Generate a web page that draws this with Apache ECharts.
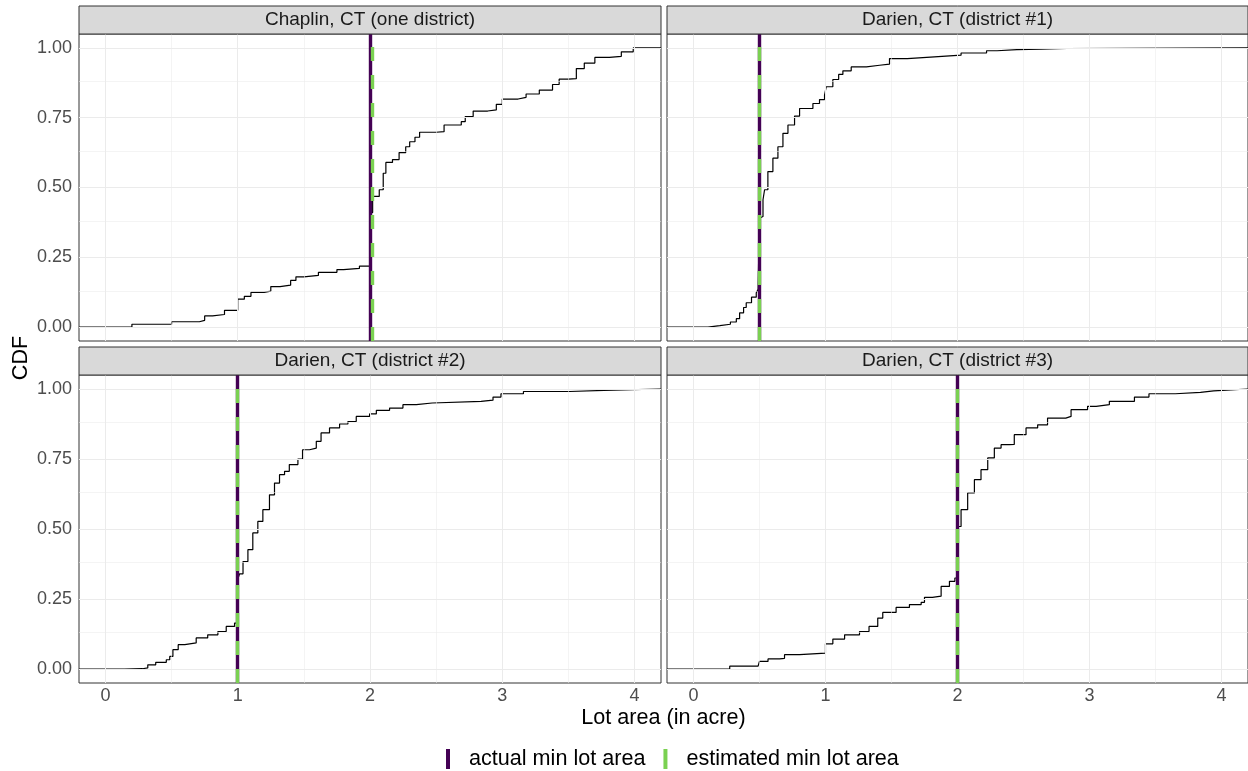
<!DOCTYPE html>
<html>
<head>
<meta charset="utf-8">
<script src="https://cdn.jsdelivr.net/npm/echarts@6/dist/echarts.min.js"></script>
<style>
  html, body { margin: 0; padding: 0; background: #ffffff; }
  #chart { width: 1248px; height: 771px; }
</style>
</head>
<body>
<div id="chart"></div>
<script>
const FONT = '"Liberation Sans", Arial, Helvetica, sans-serif';

// Facet titles and the minimum lot sizes per zoning district
const panelTitles = [
  'Chaplin, CT (one district)',
  'Darien, CT (district #1)',
  'Darien, CT (district #2)',
  'Darien, CT (district #3)'
];
const actualMinLot = [2, 0.5, 1, 2];
const estimatedMinLot = [2.02, 0.5, 1, 2];

// Axis ticks and limits
const xTickValues = [0, 1, 2, 3, 4];
const xMinorValues = [0.5, 1.5, 2.5, 3.5];
const yTickValues = [0, 0.25, 0.5, 0.75, 1];
const yMinorValues = [0.125, 0.375, 0.625, 0.875];
const xLimits = [-0.2, 4.2];
const yLimits = [-0.05, 1.05];

// Empirical CDF of lot area (acres) — Chaplin
const chaplinArea = [0.20, 0.50, 0.71, 0.75, 0.81, 0.90, 1.00, 1.05, 1.10, 1.20, 1.25, 1.32, 1.40, 1.44, 1.50, 1.61, 1.75, 1.80, 1.92,
  2.00, 2.02, 2.07, 2.10, 2.12, 2.17, 2.22, 2.27, 2.30, 2.34, 2.375, 2.50, 2.56, 2.69, 2.72, 2.78, 2.89, 2.955, 3.00, 3.12, 3.18,
  3.28, 3.38, 3.43, 3.50, 3.56, 3.62, 3.70, 3.81, 3.90, 3.99];
const chaplinCdf = [0.010, 0.019, 0.024, 0.040, 0.045, 0.060, 0.100, 0.110, 0.124, 0.129, 0.145, 0.150, 0.167, 0.180, 0.185, 0.196, 0.206, 0.210, 0.218,
  0.410, 0.468, 0.492, 0.551, 0.590, 0.600, 0.625, 0.646, 0.664, 0.680, 0.698, 0.700, 0.724, 0.736, 0.754, 0.774, 0.778, 0.798, 0.817, 0.823, 0.835,
  0.849, 0.869, 0.888, 0.890, 0.926, 0.946, 0.966, 0.970, 0.986, 1.000];

// Darien district #1
const darien1Area = [0.11, 0.20, 0.28, 0.325, 0.35, 0.38, 0.40, 0.44, 0.476, 0.49, 0.50, 0.514, 0.527, 0.539, 0.564, 0.602, 0.64, 0.678, 0.716, 0.766,
  0.804, 0.905, 0.955, 0.993, 1.006, 1.056, 1.10, 1.132, 1.195, 1.31, 1.41, 1.485, 1.62, 1.825, 2.027, 2.22, 2.30, 2.45, 2.63, 2.83];
const darien1Cdf = [0.005, 0.010, 0.018, 0.030, 0.051, 0.070, 0.087, 0.107, 0.123, 0.135, 0.390, 0.396, 0.456, 0.492, 0.557, 0.605, 0.646, 0.694, 0.724, 0.756,
  0.783, 0.801, 0.815, 0.831, 0.861, 0.887, 0.905, 0.918, 0.932, 0.938, 0.942, 0.962, 0.968, 0.974, 0.982, 0.990, 0.994, 0.996, 0.998, 1.000];

// Darien district #2
const darien2Area = [0.144, 0.28, 0.32, 0.38, 0.46, 0.486, 0.51, 0.55, 0.60, 0.686, 0.773, 0.85, 0.913, 0.976, 1.00, 1.014, 1.04, 1.077, 1.114, 1.152,
  1.19, 1.24, 1.278, 1.316, 1.354, 1.39, 1.455, 1.49, 1.543, 1.594, 1.63, 1.694, 1.77, 1.833, 1.896, 1.997, 2.048, 2.148, 2.249, 2.35,
  2.47, 2.84, 2.93, 2.99, 3.16, 3.51, 3.77];
const darien2Cdf = [0.001, 0.004, 0.015, 0.024, 0.033, 0.045, 0.069, 0.087, 0.093, 0.111, 0.122, 0.134, 0.152, 0.164, 0.320, 0.340, 0.384, 0.426, 0.486, 0.527,
  0.569, 0.622, 0.664, 0.694, 0.706, 0.730, 0.750, 0.783, 0.789, 0.813, 0.843, 0.861, 0.875, 0.884, 0.902, 0.911, 0.924, 0.932, 0.944, 0.950,
  0.956, 0.960, 0.971, 0.983, 0.991, 0.995, 1.000];

// Darien district #3
const darien3Area = [0.275, 0.49, 0.50, 0.565, 0.653, 0.69, 0.804, 1.00, 1.056, 1.145, 1.258, 1.33, 1.396, 1.434, 1.535, 1.636, 1.725, 1.75, 1.81, 1.876,
  1.939, 1.98, 2.00, 2.027, 2.077, 2.128, 2.178, 2.229, 2.279, 2.33, 2.393, 2.43, 2.519, 2.607, 2.682, 2.82, 2.86, 2.985, 3.05, 3.15,
  3.34, 3.45, 3.65, 3.84, 3.94];
const darien3Cdf = [0.010, 0.012, 0.027, 0.036, 0.038, 0.051, 0.057, 0.090, 0.107, 0.122, 0.134, 0.152, 0.182, 0.202, 0.220, 0.230, 0.238, 0.256, 0.260, 0.295,
  0.313, 0.325, 0.509, 0.569, 0.629, 0.676, 0.712, 0.754, 0.789, 0.801, 0.802, 0.837, 0.861, 0.872, 0.896, 0.902, 0.926, 0.938, 0.944, 0.956,
  0.971, 0.983, 0.988, 0.993, 1.000];

const panelAreas = [chaplinArea, darien1Area, darien2Area, darien3Area];
const panelCdfs = [chaplinCdf, darien1Cdf, darien2Cdf, darien3Cdf];

const ACTUAL_NAME = 'actual min lot area';
const ESTIMATED_NAME = 'estimated min lot area';
const ACTUAL_COLOR = '#440154';
const ESTIMATED_COLOR = '#7AD151';

// Facet panel placement
const panels = [
  { left: 79,  top: 34,  width: 582, height: 307, showX: false, showY: true },
  { left: 667, top: 34,  width: 581, height: 307, showX: false, showY: false },
  { left: 79,  top: 375, width: 582, height: 308, showX: true,  showY: true },
  { left: 667, top: 375, width: 581, height: 308, showX: true,  showY: false }
];
const STRIP_H = 28;

const grids = [], xAxes = [], yAxes = [], series = [], graphics = [];

panels.forEach((p, i) => {
  grids.push({
    left: p.left, top: p.top, width: p.width, height: p.height,
    show: true, backgroundColor: '#ffffff', borderColor: '#333333', borderWidth: 1,
    containLabel: false, outerBoundsMode: 'none'
  });
  xAxes.push({
    type: 'value', gridIndex: i, min: xLimits[0], max: xLimits[1],
    axisLine: { show: false },
    axisTick: { show: p.showX, length: 4, customValues: xTickValues, lineStyle: { color: '#333333', width: 1 } },
    axisLabel: { show: p.showX, customValues: xTickValues, margin: 4, fontSize: 18, color: '#4D4D4D', fontFamily: FONT },
    splitLine: { show: false }, minorSplitLine: { show: false }
  });
  yAxes.push({
    type: 'value', gridIndex: i, min: yLimits[0], max: yLimits[1],
    axisLine: { show: false },
    axisTick: { show: p.showY, length: 5, customValues: yTickValues, lineStyle: { color: '#333333', width: 1 } },
    axisLabel: { show: p.showY, customValues: yTickValues, margin: 7, fontSize: 18, color: '#4D4D4D', fontFamily: FONT,
      formatter: v => v.toFixed(2) },
    splitLine: { show: false }, minorSplitLine: { show: false }
  });

  // panel grid lines (major and minor)
  const gridLineData = []
    .concat(xTickValues.map(v => ({ xAxis: v, lineStyle: { width: 1, color: '#EBEBEB' } })))
    .concat(xMinorValues.map(v => ({ xAxis: v, lineStyle: { width: 0.55, color: '#EBEBEB' } })))
    .concat(yTickValues.map(v => ({ yAxis: v, lineStyle: { width: 1, color: '#EBEBEB' } })))
    .concat(yMinorValues.map(v => ({ yAxis: v, lineStyle: { width: 0.55, color: '#EBEBEB' } })));
  series.push({
    type: 'line', xAxisIndex: i, yAxisIndex: i, data: [], z: 1, silent: true,
    markLine: { silent: true, symbol: ['none', 'none'], label: { show: false }, animation: false,
      lineStyle: { type: 'solid' }, emphasis: { disabled: true }, data: gridLineData }
  });

  // empirical CDF, padded out to the panel edges
  const pts = [[xLimits[0], 0]];
  panelAreas[i].forEach((x, k) => pts.push([x, panelCdfs[i][k]]));
  pts.push([xLimits[1], 1]);
  series.push({
    type: 'line', xAxisIndex: i, yAxisIndex: i, data: pts, step: 'end',
    symbol: 'none', showSymbol: false, z: 2, silent: true,
    lineStyle: { color: '#000000', width: 1.2 }
  });

  // reference lines: actual (solid) and estimated (dashed) minimum lot area
  series.push({
    name: ACTUAL_NAME, type: 'line', xAxisIndex: i, yAxisIndex: i, data: [], z: 3,
    color: ACTUAL_COLOR, itemStyle: { color: ACTUAL_COLOR },
    markLine: { silent: true, symbol: ['none', 'none'], label: { show: false }, animation: false,
      emphasis: { disabled: true },
      lineStyle: { color: ACTUAL_COLOR, width: 3.4, type: 'solid' },
      data: [{ xAxis: actualMinLot[i] }] }
  });
  series.push({
    name: ESTIMATED_NAME, type: 'line', xAxisIndex: i, yAxisIndex: i, data: [], z: 4,
    color: ESTIMATED_COLOR, itemStyle: { color: ESTIMATED_COLOR },
    markLine: { silent: true, symbol: ['none', 'none'], label: { show: false }, animation: false,
      emphasis: { disabled: true },
      lineStyle: { color: ESTIMATED_COLOR, width: 3.4, type: [14, 14] },
      data: [{ xAxis: estimatedMinLot[i] }] }
  });

  // facet strip
  graphics.push({
    type: 'rect', z: 10,
    shape: { x: p.left, y: p.top - STRIP_H, width: p.width, height: STRIP_H },
    style: { fill: '#D9D9D9', stroke: '#333333', lineWidth: 1 }
  });
  graphics.push({
    type: 'text', z: 11,
    x: p.left + p.width / 2, y: p.top - STRIP_H / 2,
    style: { text: panelTitles[i], fontSize: 19, fontFamily: FONT, fill: '#1A1A1A', align: 'center', verticalAlign: 'middle' }
  });
});

// shared axis titles
graphics.push({
  type: 'text', x: 663.5, y: 718,
  style: { text: 'Lot area (in acre)', fontSize: 21.6, fontFamily: FONT, fill: '#000000', align: 'center', verticalAlign: 'middle' }
});
graphics.push({
  type: 'text', x: 21, y: 358, rotation: Math.PI / 2,
  style: { text: 'CDF', fontSize: 21.6, fontFamily: FONT, fill: '#000000', align: 'center', verticalAlign: 'middle' }
});

const chart = echarts.init(document.getElementById('chart'), null, { renderer: 'canvas' });
chart.setOption({
  animation: false,
  backgroundColor: '#ffffff',
  grid: grids,
  xAxis: xAxes,
  yAxis: yAxes,
  legend: {
    data: [ACTUAL_NAME, ESTIMATED_NAME],
    left: 446, top: 748, orient: 'horizontal', padding: 0,
    icon: 'rect', itemWidth: 4, itemHeight: 20, itemGap: 18,
    selectedMode: false,
    itemStyle: { borderWidth: 0 },
    textStyle: { fontSize: 21.6, fontFamily: FONT, color: '#000000', padding: [0, 0, 0, 14] }
  },
  series: series,
  graphic: graphics
});
</script>
</body>
</html>
